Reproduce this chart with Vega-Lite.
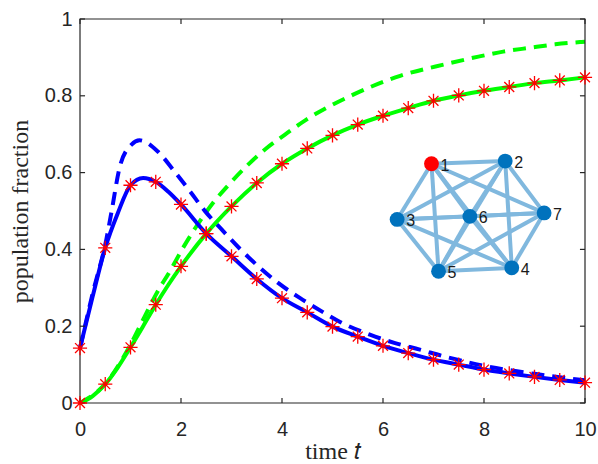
{
  "$schema": "https://vega.github.io/schema/vega-lite/v6.json",
  "width": 505,
  "height": 384,
  "autosize": {"type": "none"},
  "padding": {"left": 80, "top": 19, "right": 13, "bottom": 61},
  "background": "white",
  "config": {
    "view": {"stroke": null},
    "axis": {
      "grid": false,
      "domain": false,
      "ticks": false,
      "labelFlush": false,
      "labelFont": "Liberation Sans",
      "labelFontSize": 20,
      "labelColor": "#262626",
      "titleFont": "Liberation Serif",
      "titleFontSize": 24,
      "titleFontWeight": "normal",
      "titleColor": "#262626"
    }
  },
  "datasets": {
    "curves": [
      {"series": "I_mf", "t": 0, "v": 0.143},
      {"series": "I_mf", "t": 0.25, "v": 0.285},
      {"series": "I_mf", "t": 0.52, "v": 0.425},
      {"series": "I_mf", "t": 0.62, "v": 0.495},
      {"series": "I_mf", "t": 0.79, "v": 0.616},
      {"series": "I_mf", "t": 1.02, "v": 0.673},
      {"series": "I_mf", "t": 1.18, "v": 0.684},
      {"series": "I_mf", "t": 1.54, "v": 0.655},
      {"series": "I_mf", "t": 1.87, "v": 0.603},
      {"series": "I_mf", "t": 2.18, "v": 0.551},
      {"series": "I_mf", "t": 2.48, "v": 0.499},
      {"series": "I_mf", "t": 2.84, "v": 0.447},
      {"series": "I_mf", "t": 3.17, "v": 0.401},
      {"series": "I_mf", "t": 3.53, "v": 0.356},
      {"series": "I_mf", "t": 3.93, "v": 0.312},
      {"series": "I_mf", "t": 4.36, "v": 0.273},
      {"series": "I_mf", "t": 4.82, "v": 0.236},
      {"series": "I_mf", "t": 5.15, "v": 0.211},
      {"series": "I_mf", "t": 5.74, "v": 0.178},
      {"series": "I_mf", "t": 6.24, "v": 0.156},
      {"series": "I_mf", "t": 6.73, "v": 0.139},
      {"series": "I_mf", "t": 7.19, "v": 0.122},
      {"series": "I_mf", "t": 8, "v": 0.097},
      {"series": "I_mf", "t": 9, "v": 0.076},
      {"series": "I_mf", "t": 10, "v": 0.059},

      {"series": "R_mf", "t": 0, "v": 0},
      {"series": "R_mf", "t": 0.5, "v": 0.05},
      {"series": "R_mf", "t": 1, "v": 0.152},
      {"series": "R_mf", "t": 1.28, "v": 0.225},
      {"series": "R_mf", "t": 1.54, "v": 0.291},
      {"series": "R_mf", "t": 1.78, "v": 0.343},
      {"series": "R_mf", "t": 2.04, "v": 0.404},
      {"series": "R_mf", "t": 2.28, "v": 0.455},
      {"series": "R_mf", "t": 2.64, "v": 0.522},
      {"series": "R_mf", "t": 2.97, "v": 0.572},
      {"series": "R_mf", "t": 3.3, "v": 0.617},
      {"series": "R_mf", "t": 3.68, "v": 0.662},
      {"series": "R_mf", "t": 4.06, "v": 0.699},
      {"series": "R_mf", "t": 4.46, "v": 0.736},
      {"series": "R_mf", "t": 5.41, "v": 0.803},
      {"series": "R_mf", "t": 6.34, "v": 0.852},
      {"series": "R_mf", "t": 7.26, "v": 0.883},
      {"series": "R_mf", "t": 7.89, "v": 0.902},
      {"series": "R_mf", "t": 8.38, "v": 0.915},
      {"series": "R_mf", "t": 8.91, "v": 0.925},
      {"series": "R_mf", "t": 9.41, "v": 0.934},
      {"series": "R_mf", "t": 9.9, "v": 0.94},
      {"series": "R_mf", "t": 10, "v": 0.941},

      {"series": "R", "t": 0, "v": 0},
      {"series": "R", "t": 0.25, "v": 0.018},
      {"series": "R", "t": 0.5, "v": 0.049},
      {"series": "R", "t": 0.75, "v": 0.093},
      {"series": "R", "t": 1, "v": 0.145},
      {"series": "R", "t": 1.25, "v": 0.2},
      {"series": "R", "t": 1.5, "v": 0.256},
      {"series": "R", "t": 1.75, "v": 0.308},
      {"series": "R", "t": 2, "v": 0.356},
      {"series": "R", "t": 2.5, "v": 0.441},
      {"series": "R", "t": 3, "v": 0.512},
      {"series": "R", "t": 3.5, "v": 0.573},
      {"series": "R", "t": 4, "v": 0.623},
      {"series": "R", "t": 4.5, "v": 0.663},
      {"series": "R", "t": 5, "v": 0.697},
      {"series": "R", "t": 5.5, "v": 0.725},
      {"series": "R", "t": 6, "v": 0.748},
      {"series": "R", "t": 6.5, "v": 0.768},
      {"series": "R", "t": 7, "v": 0.787},
      {"series": "R", "t": 7.5, "v": 0.801},
      {"series": "R", "t": 8, "v": 0.813},
      {"series": "R", "t": 8.5, "v": 0.823},
      {"series": "R", "t": 9, "v": 0.833},
      {"series": "R", "t": 9.5, "v": 0.84},
      {"series": "R", "t": 10, "v": 0.848},

      {"series": "I", "t": 0, "v": 0.143},
      {"series": "I", "t": 0.25, "v": 0.277},
      {"series": "I", "t": 0.5, "v": 0.404},
      {"series": "I", "t": 0.75, "v": 0.495},
      {"series": "I", "t": 1, "v": 0.567},
      {"series": "I", "t": 1.25, "v": 0.586},
      {"series": "I", "t": 1.5, "v": 0.576},
      {"series": "I", "t": 1.75, "v": 0.55},
      {"series": "I", "t": 2, "v": 0.517},
      {"series": "I", "t": 2.5, "v": 0.441},
      {"series": "I", "t": 3, "v": 0.382},
      {"series": "I", "t": 3.5, "v": 0.323},
      {"series": "I", "t": 4, "v": 0.273},
      {"series": "I", "t": 4.5, "v": 0.236},
      {"series": "I", "t": 5, "v": 0.199},
      {"series": "I", "t": 5.5, "v": 0.173},
      {"series": "I", "t": 6, "v": 0.149},
      {"series": "I", "t": 6.5, "v": 0.13},
      {"series": "I", "t": 7, "v": 0.113},
      {"series": "I", "t": 7.5, "v": 0.1},
      {"series": "I", "t": 8, "v": 0.087},
      {"series": "I", "t": 8.5, "v": 0.077},
      {"series": "I", "t": 9, "v": 0.068},
      {"series": "I", "t": 9.5, "v": 0.06},
      {"series": "I", "t": 10, "v": 0.053}
    ],
    "samples": [
      {"t": 0, "v": 0.143}, {"t": 0.5, "v": 0.404}, {"t": 1, "v": 0.567}, {"t": 1.5, "v": 0.576},
      {"t": 2, "v": 0.517}, {"t": 2.5, "v": 0.441}, {"t": 3, "v": 0.382}, {"t": 3.5, "v": 0.323},
      {"t": 4, "v": 0.273}, {"t": 4.5, "v": 0.236}, {"t": 5, "v": 0.199}, {"t": 5.5, "v": 0.173},
      {"t": 6, "v": 0.149}, {"t": 6.5, "v": 0.13}, {"t": 7, "v": 0.113}, {"t": 7.5, "v": 0.1},
      {"t": 8, "v": 0.087}, {"t": 8.5, "v": 0.077}, {"t": 9, "v": 0.068}, {"t": 9.5, "v": 0.06},
      {"t": 10, "v": 0.053},
      {"t": 0, "v": 0}, {"t": 0.5, "v": 0.049}, {"t": 1, "v": 0.145}, {"t": 1.5, "v": 0.256},
      {"t": 2, "v": 0.356}, {"t": 2.5, "v": 0.441}, {"t": 3, "v": 0.512}, {"t": 3.5, "v": 0.573},
      {"t": 4, "v": 0.623}, {"t": 4.5, "v": 0.663}, {"t": 5, "v": 0.697}, {"t": 5.5, "v": 0.725},
      {"t": 6, "v": 0.748}, {"t": 6.5, "v": 0.768}, {"t": 7, "v": 0.787}, {"t": 7.5, "v": 0.801},
      {"t": 8, "v": 0.813}, {"t": 8.5, "v": 0.823}, {"t": 9, "v": 0.833}, {"t": 9.5, "v": 0.84},
      {"t": 10, "v": 0.848}
    ],
    "nodes": [
      {"id": 1, "t": 6.96, "v": 0.623, "seed": true},
      {"id": 2, "t": 8.42, "v": 0.63, "seed": false},
      {"id": 3, "t": 6.28, "v": 0.478, "seed": false},
      {"id": 4, "t": 8.55, "v": 0.352, "seed": false},
      {"id": 5, "t": 7.1, "v": 0.343, "seed": false},
      {"id": 6, "t": 7.72, "v": 0.486, "seed": false},
      {"id": 7, "t": 9.19, "v": 0.495, "seed": false}
    ],
    "edges": [
      {"a": 1, "b": 2}, {"a": 1, "b": 3}, {"a": 1, "b": 4}, {"a": 1, "b": 5}, {"a": 1, "b": 6}, {"a": 1, "b": 7},
      {"a": 2, "b": 3}, {"a": 2, "b": 4}, {"a": 2, "b": 5}, {"a": 2, "b": 6}, {"a": 2, "b": 7},
      {"a": 3, "b": 4}, {"a": 3, "b": 5}, {"a": 3, "b": 6}, {"a": 3, "b": 7},
      {"a": 4, "b": 5}, {"a": 4, "b": 6}, {"a": 4, "b": 7},
      {"a": 5, "b": 6}, {"a": 5, "b": 7},
      {"a": 6, "b": 7}
    ],
    "box": [
      {"k": 0, "t": 0, "v": 0},
      {"k": 1, "t": 10, "v": 0},
      {"k": 2, "t": 10, "v": 1},
      {"k": 3, "t": 0, "v": 1},
      {"k": 4, "t": 0, "v": 0}
    ],
    "ticks": [
      {"g": "b0", "k": 0, "t": 0, "v": 0}, {"g": "b0", "k": 1, "t": 0, "v": 0.013},
      {"g": "b2", "k": 0, "t": 2, "v": 0}, {"g": "b2", "k": 1, "t": 2, "v": 0.013},
      {"g": "b4", "k": 0, "t": 4, "v": 0}, {"g": "b4", "k": 1, "t": 4, "v": 0.013},
      {"g": "b6", "k": 0, "t": 6, "v": 0}, {"g": "b6", "k": 1, "t": 6, "v": 0.013},
      {"g": "b8", "k": 0, "t": 8, "v": 0}, {"g": "b8", "k": 1, "t": 8, "v": 0.013},
      {"g": "b10", "k": 0, "t": 10, "v": 0}, {"g": "b10", "k": 1, "t": 10, "v": 0.013},
      {"g": "t0", "k": 0, "t": 0, "v": 1}, {"g": "t0", "k": 1, "t": 0, "v": 0.987},
      {"g": "t2", "k": 0, "t": 2, "v": 1}, {"g": "t2", "k": 1, "t": 2, "v": 0.987},
      {"g": "t4", "k": 0, "t": 4, "v": 1}, {"g": "t4", "k": 1, "t": 4, "v": 0.987},
      {"g": "t6", "k": 0, "t": 6, "v": 1}, {"g": "t6", "k": 1, "t": 6, "v": 0.987},
      {"g": "t8", "k": 0, "t": 8, "v": 1}, {"g": "t8", "k": 1, "t": 8, "v": 0.987},
      {"g": "t10", "k": 0, "t": 10, "v": 1}, {"g": "t10", "k": 1, "t": 10, "v": 0.987},
      {"g": "l0", "k": 0, "t": 0, "v": 0}, {"g": "l0", "k": 1, "t": 0.1, "v": 0},
      {"g": "l2", "k": 0, "t": 0, "v": 0.2}, {"g": "l2", "k": 1, "t": 0.1, "v": 0.2},
      {"g": "l4", "k": 0, "t": 0, "v": 0.4}, {"g": "l4", "k": 1, "t": 0.1, "v": 0.4},
      {"g": "l6", "k": 0, "t": 0, "v": 0.6}, {"g": "l6", "k": 1, "t": 0.1, "v": 0.6},
      {"g": "l8", "k": 0, "t": 0, "v": 0.8}, {"g": "l8", "k": 1, "t": 0.1, "v": 0.8},
      {"g": "l10", "k": 0, "t": 0, "v": 1}, {"g": "l10", "k": 1, "t": 0.1, "v": 1},
      {"g": "r0", "k": 0, "t": 10, "v": 0}, {"g": "r0", "k": 1, "t": 9.9, "v": 0},
      {"g": "r2", "k": 0, "t": 10, "v": 0.2}, {"g": "r2", "k": 1, "t": 9.9, "v": 0.2},
      {"g": "r4", "k": 0, "t": 10, "v": 0.4}, {"g": "r4", "k": 1, "t": 9.9, "v": 0.4},
      {"g": "r6", "k": 0, "t": 10, "v": 0.6}, {"g": "r6", "k": 1, "t": 9.9, "v": 0.6},
      {"g": "r8", "k": 0, "t": 10, "v": 0.8}, {"g": "r8", "k": 1, "t": 9.9, "v": 0.8},
      {"g": "r10", "k": 0, "t": 10, "v": 1}, {"g": "r10", "k": 1, "t": 9.9, "v": 1}
    ]
  },
  "layer": [
    {
      "data": {"name": "curves"},
      "transform": [{"filter": "datum.series === 'R_mf'"}],
      "mark": {"type": "line", "color": "#00FF00", "strokeWidth": 4, "strokeDash": [13, 8], "interpolate": "monotone"},
      "encoding": {
        "x": {"field": "t", "type": "quantitative", "scale": {"domain": [0, 10], "nice": false},
              "axis": {"orient": "bottom", "values": [0, 2, 4, 6, 8, 10], "title": "time 𝑡", "labelPadding": 16, "titlePadding": 0}},
        "y": {"field": "v", "type": "quantitative", "scale": {"domain": [0, 1], "nice": false},
              "axis": {"orient": "left", "values": [0, 0.2, 0.4, 0.6, 0.8, 1], "format": "~g", "title": "population fraction", "labelPadding": 8, "titlePadding": 12}}
      }
    },
    {
      "data": {"name": "curves"},
      "transform": [{"filter": "datum.series === 'I_mf'"}],
      "mark": {"type": "line", "color": "#0000FF", "strokeWidth": 4, "strokeDash": [13, 8], "interpolate": "monotone"},
      "encoding": {
        "x": {"field": "t", "type": "quantitative"},
        "y": {"field": "v", "type": "quantitative"}
      }
    },
    {
      "data": {"name": "curves"},
      "transform": [{"filter": "datum.series === 'R'"}],
      "mark": {"type": "line", "color": "#00FF00", "strokeWidth": 4, "interpolate": "monotone"},
      "encoding": {
        "x": {"field": "t", "type": "quantitative"},
        "y": {"field": "v", "type": "quantitative"}
      }
    },
    {
      "data": {"name": "curves"},
      "transform": [{"filter": "datum.series === 'I'"}],
      "mark": {"type": "line", "color": "#0000FF", "strokeWidth": 4, "interpolate": "monotone"},
      "encoding": {
        "x": {"field": "t", "type": "quantitative"},
        "y": {"field": "v", "type": "quantitative"}
      }
    },
    {
      "data": {"name": "box"},
      "mark": {"type": "line", "color": "#262626", "strokeWidth": 1.2},
      "encoding": {
        "x": {"field": "t", "type": "quantitative"},
        "y": {"field": "v", "type": "quantitative"},
        "order": {"field": "k"}
      }
    },
    {
      "data": {"name": "ticks"},
      "mark": {"type": "line", "color": "#262626", "strokeWidth": 1.2},
      "encoding": {
        "x": {"field": "t", "type": "quantitative"},
        "y": {"field": "v", "type": "quantitative"},
        "detail": {"field": "g"},
        "order": {"field": "k"}
      }
    },
    {
      "data": {"name": "samples"},
      "mark": {"type": "point", "shape": "M0,-1L0,1M-1,0L1,0M-0.7,-0.7L0.7,0.7M-0.7,0.7L0.7,-0.7", "size": 200, "stroke": "#FF0000", "strokeWidth": 1.3, "filled": false, "opacity": 1},
      "encoding": {
        "x": {"field": "t", "type": "quantitative"},
        "y": {"field": "v", "type": "quantitative"}
      }
    },
    {
      "data": {"name": "edges"},
      "transform": [
        {"lookup": "a", "from": {"data": {"name": "nodes"}, "key": "id", "fields": ["t", "v"]}, "as": ["t1", "v1"]},
        {"lookup": "b", "from": {"data": {"name": "nodes"}, "key": "id", "fields": ["t", "v"]}, "as": ["t2", "v2"]}
      ],
      "mark": {"type": "rule", "color": "#80B8DE", "strokeWidth": 4},
      "encoding": {
        "x": {"field": "t1", "type": "quantitative"},
        "y": {"field": "v1", "type": "quantitative"},
        "x2": {"field": "t2"},
        "y2": {"field": "v2"}
      }
    },
    {
      "data": {"name": "nodes"},
      "mark": {"type": "circle", "size": 220, "opacity": 1},
      "encoding": {
        "x": {"field": "t", "type": "quantitative"},
        "y": {"field": "v", "type": "quantitative"},
        "color": {"field": "seed", "type": "nominal", "scale": {"domain": [true, false], "range": ["#FF0000", "#0072BD"]}, "legend": null}
      }
    },
    {
      "data": {"name": "nodes"},
      "mark": {"type": "text", "align": "left", "baseline": "middle", "dx": 9, "dy": 2, "font": "Liberation Sans", "fontSize": 16, "color": "#1a1a1a"},
      "encoding": {
        "x": {"field": "t", "type": "quantitative"},
        "y": {"field": "v", "type": "quantitative"},
        "text": {"field": "id", "type": "nominal"}
      }
    }
  ]
}
